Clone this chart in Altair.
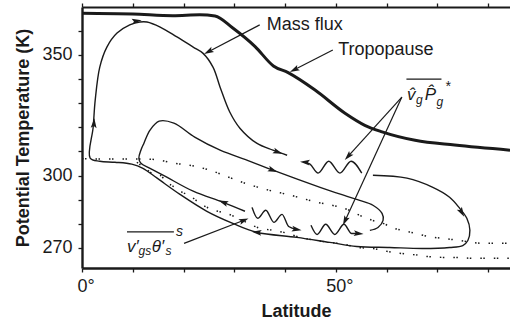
import altair as alt
import pandas as pd

# ---------------- data (latitude in degrees, potential temperature in K) -------------
trop_lat = [0, 10, 17.9, 23.2, 26.2, 29.7, 34.1, 37.7, 40.6, 45.9, 51.8, 55.7, 59.1, 65.6, 73.4, 84.3]
trop_theta = [367.2, 366.9, 366.2, 366.6, 366.1, 361.1, 353.4, 345.4, 342.6, 335.4, 325.8, 320.8, 318.1, 314.6, 312.6, 310.5]

upper_dot_lat = [0, 3.3, 8.3, 12.8, 15.4, 18.1, 21.1, 25.2, 28.9, 32.1, 34.6, 37.6, 40.4, 43.3, 46.3, 49.2,
                 52.2, 54.7, 57.1, 59.3, 61.0, 63.0, 65.6, 68.1, 70.9, 74.0, 76.8, 79.3, 84.3]
upper_dot_theta = [307.0, 306.8, 306.8, 306.8, 306.3, 305.1, 304.3, 302.2, 299.3, 296.8, 295.2, 293.5, 292.2,
                   290.6, 288.9, 287.7, 286.0, 283.5, 281.5, 280.2, 278.5, 277.3, 276.1, 274.8, 274.0, 273.2,
                   272.3, 271.9, 271.9]

lower_dot_lat = [10.8, 12.4, 13.8, 15.4, 16.7, 18.3, 19.7, 21.1, 23.0, 25.0, 28.9, 31.5, 35.0, 37.6, 40.4,
                 42.9, 45.9, 48.8, 51.8, 54.3, 57.3, 60.0, 62.6, 65.2, 67.9, 70.9, 73.8, 76.8, 84.3]
lower_dot_theta = [305.5, 303.0, 301.0, 300.1, 297.2, 295.1, 293.1, 291.8, 288.9, 286.4, 284.0, 281.5, 278.2,
                   277.3, 276.1, 274.4, 273.2, 272.3, 271.5, 270.2, 269.8, 268.6, 267.8, 267.3, 266.5, 266.1,
                   266.1, 265.7, 265.7]

outer_lat = [57.3, 64.0, 69.1, 72.4, 74.4, 75.8, 76.4, 76.0, 75.0, 72.4, 67.1, 60.6, 54.1, 48.8, 42.3, 34.4,
             29.7, 24.6, 19.3, 14.8, 12.0, 9.8, 6.5, 3.5, 1.6, 2.2, 2.6, 3.5, 4.9, 6.9, 9.4, 11.4, 12.8, 15.4,
             18.7, 21.9, 23.8, 25.8, 27.2, 29.1, 31.1, 34.4, 37.6, 40.4]
outer_theta = [300.1, 298.9, 295.1, 291.0, 286.4, 282.3, 277.3, 273.1, 271.0, 270.2, 269.8, 270.2, 270.6,
               272.3, 274.4, 276.5, 280.2, 285.2, 292.2, 298.9, 303.0, 304.7, 305.5, 305.9, 307.2, 320.0,
               331.2, 344.9, 353.2, 359.0, 362.4, 363.6, 363.6, 361.5, 357.4, 353.2, 350.7, 344.9, 336.6,
               326.3, 319.6, 313.4, 310.5, 308.4]

inner_lat = [32.1, 27.8, 21.9, 16.7, 13.4, 11.6, 11.2, 11.6, 12.2, 13.4, 15.2, 18.1, 22.2, 27.2, 33.1, 37.6,
             46.9, 52.2, 54.7, 57.3, 59.1, 59.3, 58.3, 56.7]
inner_theta = [285.2, 288.9, 293.5, 299.3, 303.0, 305.1, 307.2, 310.5, 313.4, 318.8, 322.5, 321.7, 315.9,
               310.5, 305.9, 302.2, 295.1, 291.4, 289.7, 287.7, 284.3, 281.4, 278.5, 277.3]

wave1_lat = [43.9, 44.9, 46.5, 48.6, 50.8, 53.0, 55.1]
wave1_theta = [305.5, 304.7, 301.0, 305.9, 301.0, 305.9, 301.0]
wave2_lat = [33.5, 34.6, 36.2, 37.8, 39.4, 40.7, 42.3]
wave2_theta = [286.8, 282.3, 285.6, 280.6, 283.9, 278.9, 277.7]
wave3_lat = [45.1, 46.3, 48.0, 49.8, 51.6, 53.1, 54.5]
wave3_theta = [279.4, 275.6, 279.8, 275.6, 279.8, 276.0, 276.0]

# label pointer lines: start -> tip
ptr_lat = [35.0, 49.4, 63.0, 63.0, 20.1]
ptr_theta = [362.4, 352.0, 332.5, 332.5, 271.9]
ptr_lat2 = [24.9, 41.8, 52.4, 51.8, 31.9]
ptr_theta2 = [351.3, 343.8, 307.9, 281.2, 281.5]

# arrow heads (position and heading in degrees clockwise from up)
arrow_lat = [24.9, 41.8, 52.4, 51.8, 31.9, 2.36, 10.8, 38.6, 74.8, 34.4, 27.8, 37.6, 43.9, 42.3, 54.5]
arrow_theta = [351.3, 343.8, 307.9, 281.2, 281.5, 321.7, 364.0, 309.7, 284.7, 276.5, 288.9, 302.2, 305.5, 277.7, 276.0]
arrow_heading = [243, 243, 222, 205, 69, 4, 82, 110, 150, 277, 291, 110, 275, 100, 95]

# text annotations
label_text = ["Mass flux", "Tropopause"]
label_lat = [36.4, 50.45]
label_theta = [360.3, 349.9]

math_text = ["v\u0302", "P\u0302", "v\u2032", "\u03b8\u2032"]
math_lat = [64.0, 67.5, 8.86, 13.75]
math_theta = [331.2, 331.2, 268.2, 268.2]

sub_text = ["g", "g", "gs", "s"]
sub_lat = [65.8, 69.8, 11.15, 16.45]
sub_theta = [329.6, 328.8, 266.9, 266.9]

sup_text = ["*", "s"]
sup_lat = [71.5, 18.5]
sup_theta = [335.2, 274.8]

bar_lat = [63.9, 8.86]
bar_lat2 = [70.8, 18.1]
bar_theta = [339.9, 276.7]

# ---------------- chart ----------------
INK = "#1a1a1a"
FONT = "Liberation Sans"
xs = alt.Scale(domain=[0, 84.3], nice=False, zero=False)
ys = alt.Scale(domain=[261.7, 369.8], nice=False, zero=False)

left_axis = alt.Axis(
    orient="left", values=list(range(270, 370, 10)),
    labelExpr="(datum.value == 270 || datum.value == 300 || datum.value == 350) ? datum.label : ''",
    labelOverlap=False, labelFont=FONT, labelFontSize=18, labelColor=INK, labelPadding=6,
    tickSize=4, tickWidth=1.3, tickColor=INK, domainWidth=2.4, domainColor=INK, grid=False,
    title="Potential Temperature (K)", titleFont=FONT, titleFontSize=18, titleFontWeight="bold",
    titleColor=INK, titleX=-54, titleY=130.5, titleAngle=270, titleAlign="center",
    titleBaseline="alphabetic",
)
bottom_axis = alt.Axis(
    orient="bottom", values=list(range(0, 90, 10)),
    labelExpr="datum.value == 0 ? '0°' : (datum.value == 50 ? '50°' : '')",
    labelFlush=False, labelOverlap=False, labelFont=FONT, labelFontSize=18, labelColor=INK,
    labelPadding=5, labelOffset=3.6, tickSize=4, tickWidth=1.3, tickColor=INK,
    domainWidth=2.4, domainColor=INK, grid=False,
    title="Latitude", titleFont=FONT, titleFontSize=18, titleFontWeight="bold", titleColor=INK,
    titleY=48, titleBaseline="alphabetic",
)
top_axis = alt.Axis(
    orient="top", values=list(range(0, 90, 10)), labels=False, tickSize=4, tickWidth=1.3,
    tickColor=INK, domainWidth=2.0, domainColor=INK, grid=False, title=None,
)


def path_df(lat, theta):
    return pd.DataFrame({"lat": lat, "theta": theta, "i": list(range(len(lat)))})


def X(axis=None):
    return alt.X("lat:Q", scale=xs, axis=axis)


def Y():
    return alt.Y("theta:Q", scale=ys, axis=left_axis)


trop = alt.Chart(path_df(trop_lat, trop_theta)).mark_line(
    color=INK, strokeWidth=3, interpolate="monotone"
).encode(x=X(bottom_axis), y=Y(), order="i:Q")

dash = [1.5, 1.5, 1.5, 9]
upper_dots = alt.Chart(path_df(upper_dot_lat, upper_dot_theta)).mark_line(
    color=INK, strokeWidth=1.5, strokeDash=dash, interpolate="monotone"
).encode(x=X(top_axis), y=Y(), order="i:Q")
lower_dots = alt.Chart(path_df(lower_dot_lat, lower_dot_theta)).mark_line(
    color=INK, strokeWidth=1.5, strokeDash=dash, interpolate="monotone"
).encode(x=X(), y=Y(), order="i:Q")

outer = alt.Chart(path_df(outer_lat, outer_theta)).mark_line(
    color=INK, strokeWidth=1.4, interpolate="catmull-rom"
).encode(x=X(), y=Y(), order="i:Q")
inner = alt.Chart(path_df(inner_lat, inner_theta)).mark_line(
    color=INK, strokeWidth=1.4, interpolate="catmull-rom"
).encode(x=X(), y=Y(), order="i:Q")

waves = []
for wl, wt in [(wave1_lat, wave1_theta), (wave2_lat, wave2_theta), (wave3_lat, wave3_theta)]:
    waves.append(alt.Chart(path_df(wl, wt)).mark_line(
        color=INK, strokeWidth=1.4, interpolate="monotone"
    ).encode(x=X(), y=Y(), order="i:Q"))

ptr_df = pd.DataFrame({"lat": ptr_lat, "theta": ptr_theta, "lat2": ptr_lat2, "theta2": ptr_theta2})
pointers = alt.Chart(ptr_df).mark_rule(color=INK, strokeWidth=1.2).encode(
    x=X(), y=Y(), x2="lat2:Q", y2="theta2:Q")

arrow_df = pd.DataFrame({"lat": arrow_lat, "theta": arrow_theta, "ang": arrow_heading})
arrows = alt.Chart(arrow_df).mark_point(
    shape="M0,-1L0.6,1L0,0.6L-0.6,1Z", filled=True, size=95, color=INK, opacity=1, strokeWidth=0
).encode(x=X(), y=Y(), angle=alt.Angle("ang:Q", scale=None))


def text_layer(texts, lats, thetas, size, style="normal", align="left", baseline="alphabetic"):
    df = pd.DataFrame({"lat": lats, "theta": thetas, "t": texts})
    return alt.Chart(df).mark_text(
        align=align, baseline=baseline, font=FONT, fontSize=size, fontStyle=style, color=INK
    ).encode(x=X(), y=Y(), text="t:N")


labels = text_layer(label_text, label_lat, label_theta, 18)
maths = text_layer(math_text, math_lat, math_theta, 17, "italic")
subs = text_layer(sub_text, sub_lat, sub_theta, 12, "italic")
sups = text_layer(sup_text, sup_lat, sup_theta, 14, "italic")

bar_df = pd.DataFrame({"lat": bar_lat, "lat2": bar_lat2, "theta": bar_theta})
bars = alt.Chart(bar_df).mark_rule(color=INK, strokeWidth=1.2).encode(x=X(), x2="lat2:Q", y=Y())

chart = alt.layer(
    trop, upper_dots, lower_dots, outer, inner, *waves, pointers, arrows,
    labels, maths, subs, sups, bars
).resolve_axis(x="independent").properties(
    width=428, height=261,
    padding={"left": 82, "top": 7, "right": 0, "bottom": 54},
    autosize=alt.AutoSizeParams(type="none"),
    background="white",
).configure_view(stroke=None)

chart.save("out.html", embed_options={"renderer": "svg", "actions": False})
